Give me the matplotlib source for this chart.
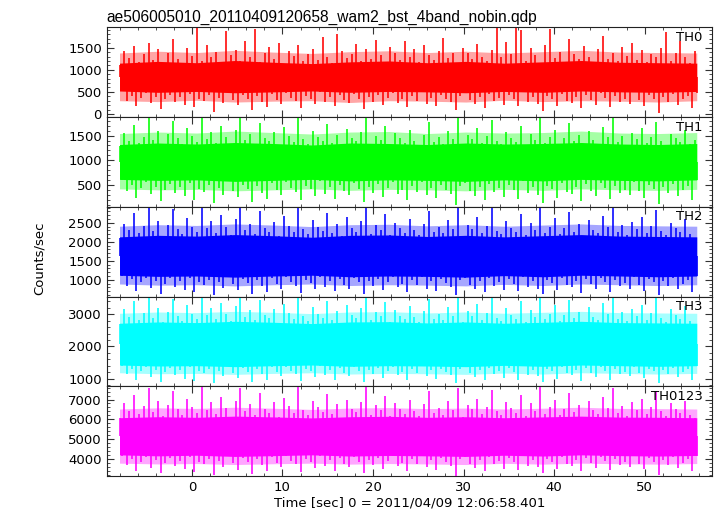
import numpy as np
import matplotlib.pyplot as plt

plt.rcParams['font.family'] = 'DejaVu Sans'
plt.rcParams['font.size'] = 9.5

title = 'ae506005010_20110409120658_wam2_bst_4band_nobin.qdp'
xlabel = 'Time [sec] 0 = 2011/04/09 12:06:58.401'
ylabel = 'Counts/sec'

t_start = -8.0
t_bin = 0.534      # spacing of the peak/trough samples below
band_bin = 4.25    # spacing of the band samples

names = ['TH0', 'TH1', 'TH2', 'TH3', 'TH0123']
levels = [840, 970, 1625, 2070, 5150]

# dense core of each light curve (lower / upper edge, every ~4 s)
th0_core_lo = [520, 490, 510, 480, 500, 520, 490, 510, 500, 480, 510, 490, 520, 500, 490, 510]
th0_core_hi = [1150, 1190, 1160, 1210, 1170, 1140, 1180, 1200, 1160, 1190, 1150, 1180, 1210, 1170, 1160, 1150]
th1_core_lo = [620, 600, 610, 580, 600, 620, 590, 610, 600, 580, 610, 590, 620, 600, 590, 610]
th1_core_hi = [1320, 1350, 1330, 1360, 1340, 1310, 1350, 1340, 1320, 1350, 1330, 1340, 1360, 1330, 1320, 1340]
th2_core_lo = [1120, 1090, 1100, 1070, 1100, 1120, 1080, 1100, 1090, 1070, 1110, 1080, 1120, 1100, 1080, 1100]
th2_core_hi = [2130, 2170, 2150, 2190, 2160, 2120, 2170, 2180, 2140, 2170, 2130, 2160, 2190, 2150, 2140, 2130]
th3_core_lo = [1420, 1390, 1400, 1370, 1400, 1420, 1380, 1400, 1390, 1370, 1410, 1380, 1420, 1400, 1380, 1400]
th3_core_hi = [2720, 2760, 2740, 2780, 2750, 2710, 2760, 2770, 2730, 2760, 2720, 2750, 2780, 2740, 2730, 2720]
th0123_core_lo = [4200, 4150, 4180, 4120, 4160, 4200, 4140, 4170, 4150, 4120, 4180, 4140, 4200, 4160, 4140, 4170]
th0123_core_hi = [6080, 6130, 6100, 6160, 6120, 6070, 6130, 6150, 6100, 6130, 6080, 6120, 6160, 6110, 6100, 6080]

# thinner outer zone where most of the excursions end
th0_outer_lo = [300, 280, 310, 270, 290, 300, 260, 300, 290, 270, 310, 280, 300, 290, 270, 300]
th0_outer_hi = [1380, 1420, 1390, 1440, 1400, 1370, 1410, 1430, 1390, 1420, 1380, 1410, 1440, 1400, 1390, 1380]
th1_outer_lo = [430, 410, 420, 390, 410, 430, 400, 420, 410, 390, 420, 400, 430, 410, 400, 420]
th1_outer_hi = [1540, 1570, 1550, 1590, 1560, 1530, 1570, 1580, 1540, 1570, 1550, 1560, 1590, 1550, 1540, 1560]
th2_outer_lo = [890, 860, 870, 840, 870, 890, 850, 870, 860, 840, 880, 850, 890, 870, 850, 870]
th2_outer_hi = [2410, 2450, 2430, 2470, 2440, 2400, 2450, 2460, 2420, 2450, 2410, 2440, 2470, 2430, 2420, 2410]
th3_outer_lo = [1180, 1150, 1160, 1130, 1160, 1180, 1140, 1160, 1150, 1130, 1170, 1140, 1180, 1160, 1140, 1160]
th3_outer_hi = [3030, 3070, 3050, 3090, 3060, 3020, 3070, 3080, 3040, 3070, 3030, 3060, 3090, 3050, 3040, 3030]
th0123_outer_lo = [3780, 3740, 3760, 3710, 3750, 3780, 3730, 3760, 3740, 3710, 3770, 3730, 3780, 3750, 3730, 3760]
th0123_outer_hi = [6520, 6580, 6550, 6610, 6560, 6500, 6570, 6590, 6540, 6570, 6520, 6560, 6610, 6550, 6540, 6520]

# individual peaks (hi) and troughs (lo)
th0_hi = [1100, 1420, 1260, 1530, 1180, 1350, 1610, 1220, 1470, 1090, 1380, 1700,
          1240, 1150, 1490, 1320, 1950, 1200, 1560, 1280, 1400, 1130, 1880, 1330,
          1450, 1210, 1650, 1290, 1920, 1170, 1380, 1520, 1240, 1600, 1110, 1430,
          1310, 1560, 1190, 1360, 1480, 1230, 1740, 1300, 1160, 1820, 1420, 1270,
          1350, 1590, 1200, 1460, 1250, 1680, 1330, 1140, 1510, 1380, 1220, 1640,
          1290, 1470, 1170, 1550, 1340, 1230, 1420, 1710, 1260, 1390, 1150, 1500,
          1370, 1240, 1580, 1300, 1190, 1450, 1940, 1280, 1620, 1360, 1950, 1900,
          1210, 1490, 1330, 1140, 1560, 1920, 1270, 1410, 1180, 1690, 1350, 1240,
          1530, 1300, 1160, 1460, 1770, 1250, 1380, 1200, 1520, 1320, 1600, 1230,
          1440, 1170, 1360, 1280, 1500, 1860, 1210, 1390, 1650, 1300, 1150, 1420]
th0_lo = [520, 300, 410, 180, 360, 470, 250, 390, 120, 330, 440, 280,
          380, 210, 460, 150, 340, 290, 420, 40, 370, 240, 500, 310,
          200, 430, 350, 90, 400, 270, 160, 450, 320, 230, 480, 370,
          290, 140, 410, 340, 220, 500, 260, 380, 170, 430, 310, 240,
          460, 350, 110, 390, 280, 440, 200, 360, 480, 250, 330, 150,
          410, 300, 490, 230, 370, 180, 420, 340, 260, 100, 400, 470,
          310, 220, 380, 140, 450, 290, 360, 200, 430, 330, 170, 500,
          270, 390, 230, 60, 410, 350, 190, 460, 300, 250, 380, 130,
          440, 320, 210, 470, 360, 160, 400, 280, 340, 230, 490, 310,
          180, 420, 350, 30, 390, 270, 450, 210, 330, 400, 140, 480]

th1_hi = [1280, 1560, 1400, 1720, 1350, 1480, 1870, 1420, 1600, 1300, 1530, 1800,
          1450, 1330, 1650, 1500, 1380, 1870, 1440, 1580, 1360, 1690, 1470, 1310,
          1620, 1870, 1410, 1540, 1340, 1760, 1460, 1390, 1570, 1290, 1680, 1500,
          1370, 1860, 1440, 1320, 1600, 1480, 1400, 1730, 1350, 1520, 1280, 1640,
          1460, 1390, 1580, 1870, 1330, 1500, 1420, 1700, 1310, 1550, 1450, 1360,
          1620, 1400, 1300, 1520, 1780, 1380, 1470, 1340, 1600, 1430, 1870, 1290,
          1510, 1440, 1660, 1350, 1490, 1820, 1400, 1320, 1570, 1460, 1380, 1700,
          1300, 1540, 1420, 1870, 1360, 1480, 1620, 1330, 1450, 1750, 1390, 1520,
          1280, 1600, 1410, 1340, 1680, 1470, 1860, 1370, 1500, 1310, 1560, 1430,
          1650, 1350, 1480, 1780, 1400, 1290, 1540, 1460, 1380, 1620, 1330, 1420]
th1_lo = [600, 380, 500, 250, 450, 560, 320, 470, 180, 410, 530, 350,
          460, 280, 540, 210, 430, 370, 500, 150, 440, 310, 580, 390,
          270, 510, 420, 160, 480, 340, 230, 540, 400, 300, 560, 440,
          360, 200, 490, 420, 290, 580, 330, 460, 220, 510, 380, 300,
          540, 430, 170, 470, 350, 520, 260, 440, 560, 320, 400, 210,
          490, 370, 570, 300, 450, 240, 500, 410, 330, 110, 480, 550,
          380, 290, 460, 200, 530, 360, 440, 260, 510, 400, 230, 580,
          340, 470, 300, 150, 490, 420, 250, 540, 370, 320, 460, 190,
          520, 390, 280, 550, 440, 220, 480, 350, 410, 300, 570, 380,
          240, 500, 420, 130, 470, 340, 530, 280, 400, 480, 200, 600]

th2_hi = [2100, 2480, 2300, 2750, 2220, 2420, 2900, 2280, 2560, 2160, 2450, 2850,
          2330, 2200, 2620, 2400, 2260, 2900, 2350, 2540, 2240, 2700, 2380, 2190,
          2600, 2900, 2300, 2480, 2210, 2800, 2370, 2270, 2530, 2150, 2680, 2420,
          2250, 2900, 2340, 2200, 2580, 2400, 2290, 2760, 2230, 2460, 2140, 2650,
          2360, 2270, 2550, 2900, 2210, 2440, 2320, 2720, 2180, 2500, 2350, 2240,
          2610, 2300, 2170, 2470, 2820, 2260, 2380, 2220, 2570, 2330, 2900, 2160,
          2450, 2340, 2660, 2230, 2410, 2880, 2290, 2200, 2540, 2370, 2250, 2740,
          2180, 2490, 2310, 2900, 2240, 2400, 2630, 2210, 2360, 2790, 2270, 2460,
          2150, 2580, 2300, 2220, 2690, 2380, 2900, 2250, 2440, 2190, 2520, 2330,
          2640, 2230, 2410, 2830, 2290, 2170, 2500, 2360, 2260, 2600, 2210, 2100]
th2_lo = [1100, 850, 1010, 700, 940, 1060, 790, 980, 640, 900, 1040, 820,
          960, 740, 1050, 680, 930, 860, 1000, 610, 950, 780, 1080, 880,
          720, 1020, 910, 620, 990, 830, 690, 1050, 890, 770, 1070, 940,
          850, 660, 1000, 920, 760, 1080, 800, 960, 700, 1030, 870, 770,
          1050, 930, 630, 980, 840, 1030, 730, 950, 1070, 800, 890, 680,
          1000, 860, 1080, 770, 960, 710, 1010, 910, 810, 600, 990, 1060,
          870, 760, 970, 680, 1040, 850, 950, 730, 1020, 900, 700, 1080,
          820, 980, 770, 640, 1000, 920, 720, 1050, 860, 800, 970, 660,
          1030, 880, 750, 1060, 950, 690, 990, 840, 910, 770, 1070, 870,
          710, 1010, 930, 610, 980, 830, 1040, 750, 900, 990, 670, 1100]

th3_hi = [2700, 3150, 2900, 3400, 2820, 3050, 3550, 2880, 3200, 2760, 3080, 3480,
          2950, 2800, 3300, 3020, 2860, 3550, 2970, 3180, 2840, 3350, 3000, 2780,
          3250, 3550, 2900, 3120, 2810, 3450, 2990, 2870, 3160, 2740, 3330, 3050,
          2850, 3550, 2960, 2800, 3220, 3020, 2890, 3420, 2830, 3100, 2730, 3300,
          2980, 2870, 3190, 3550, 2810, 3070, 2930, 3380, 2770, 3140, 2960, 2840,
          3260, 2900, 2760, 3110, 3480, 2860, 3000, 2820, 3210, 2940, 3550, 2750,
          3090, 2950, 3310, 2830, 3040, 3520, 2890, 2790, 3180, 2980, 2850, 3400,
          2770, 3130, 2910, 3550, 2840, 3020, 3280, 2800, 2970, 3450, 2870, 3080,
          2740, 3220, 2920, 2820, 3340, 3000, 3550, 2850, 3060, 2780, 3170, 2940,
          3290, 2830, 3030, 3490, 2890, 2760, 3150, 2970, 2860, 3250, 2800, 2700]
th3_lo = [1400, 1150, 1310, 960, 1240, 1360, 1050, 1280, 900, 1200, 1340, 1100,
          1260, 1000, 1350, 930, 1230, 1160, 1300, 870, 1250, 1080, 1380, 1180,
          1020, 1320, 1210, 880, 1290, 1130, 950, 1350, 1190, 1070, 1370, 1240,
          1150, 920, 1300, 1220, 1060, 1380, 1100, 1260, 960, 1330, 1170, 1070,
          1350, 1230, 890, 1280, 1140, 1330, 1030, 1250, 1370, 1100, 1190, 940,
          1300, 1160, 1380, 1070, 1260, 980, 1310, 1210, 1110, 850, 1290, 1360,
          1170, 1060, 1270, 940, 1340, 1150, 1250, 1030, 1320, 1200, 960, 1380,
          1120, 1280, 1070, 900, 1300, 1220, 1000, 1350, 1160, 1100, 1270, 920,
          1330, 1180, 1050, 1360, 1250, 970, 1290, 1140, 1210, 1070, 1370, 1170,
          1010, 1310, 1230, 860, 1280, 1130, 1340, 1050, 1200, 1290, 950, 1400]

th0123_hi = [6050, 6800, 6400, 7250, 6250, 6650, 7600, 6350, 6900, 6150, 6700, 7450,
             6500, 6200, 7050, 6600, 6300, 7650, 6450, 6850, 6250, 7150, 6550, 6100,
             6950, 7600, 6400, 6750, 6200, 7350, 6500, 6300, 6850, 6100, 7100, 6650,
             6300, 7650, 6450, 6200, 6950, 6600, 6350, 7300, 6250, 6750, 6050, 7000,
             6500, 6350, 6850, 7650, 6200, 6700, 6450, 7200, 6150, 6800, 6500, 6250,
             7000, 6400, 6150, 6750, 7450, 6300, 6550, 6200, 6900, 6450, 7600, 6100,
             6700, 6500, 7050, 6250, 6600, 7500, 6400, 6200, 6850, 6550, 6300, 7250,
             6150, 6800, 6400, 7650, 6250, 6600, 7000, 6200, 6500, 7350, 6350, 6700,
             6100, 6950, 6450, 6250, 7150, 6550, 7600, 6300, 6650, 6150, 6850, 6450,
             7050, 6250, 6600, 7400, 6400, 6150, 6800, 6500, 6300, 6950, 6200, 6050]
th0123_lo = [4150, 3700, 4000, 3400, 3850, 4100, 3550, 3950, 3300, 3800, 4050, 3650,
             3900, 3500, 4100, 3350, 3850, 3750, 4000, 3200, 3880, 3600, 4150, 3780,
             3450, 4050, 3820, 3250, 3980, 3680, 3380, 4100, 3800, 3580, 4120, 3900,
             3720, 3330, 4000, 3840, 3560, 4150, 3650, 3920, 3400, 4060, 3760, 3580,
             4100, 3860, 3280, 3960, 3700, 4060, 3500, 3900, 4120, 3640, 3800, 3380,
             4000, 3740, 4140, 3600, 3920, 3450, 4020, 3820, 3660, 3150, 3980, 4100,
             3760, 3550, 3940, 3400, 4080, 3720, 3900, 3500, 4040, 3820, 3420, 4150,
             3660, 3960, 3580, 3300, 4000, 3840, 3480, 4100, 3750, 3640, 3940, 3360,
             4060, 3780, 3540, 4100, 3900, 3440, 3980, 3700, 3820, 3580, 4140, 3760,
             3460, 4020, 3860, 3200, 3960, 3680, 4080, 3520, 3800, 3980, 3400, 4150]

core_los = [th0_core_lo, th1_core_lo, th2_core_lo, th3_core_lo, th0123_core_lo]
core_his = [th0_core_hi, th1_core_hi, th2_core_hi, th3_core_hi, th0123_core_hi]
outer_los = [th0_outer_lo, th1_outer_lo, th2_outer_lo, th3_outer_lo, th0123_outer_lo]
outer_his = [th0_outer_hi, th1_outer_hi, th2_outer_hi, th3_outer_hi, th0123_outer_hi]
his = [th0_hi, th1_hi, th2_hi, th3_hi, th0123_hi]
los = [th0_lo, th1_lo, th2_lo, th3_lo, th0123_lo]
colors = ['#ff0000', '#00ff00', '#0000ff', '#00ffff', '#ff00ff']
ylims = [(-70, 1960), (70, 1870), (560, 2920), (760, 3550), (3130, 7670)]
majors = [500, 500, 500, 1000, 1000]
minors = [100, 100, 100, 200, 200]

fig, axes = plt.subplots(5, 1, sharex=True, figsize=(7.17, 5.16), dpi=100)
fig.subplots_adjust(left=0.149, right=0.9926, top=0.947, bottom=0.0775, hspace=0)

for i, ax in enumerate(axes):
    c = colors[i]
    tb = t_start + band_bin * np.arange(len(core_los[i]))
    ax.fill_between(tb, outer_los[i], outer_his[i], color=c, alpha=0.35, lw=0)
    ax.fill_between(tb, core_los[i], core_his[i], color=c, lw=0)
    t_up = t_start + t_bin * np.arange(len(his[i]))
    t_dn = t_up + t_bin / 2
    ax.vlines(t_up, levels[i], his[i], color=c, lw=1.15)
    ax.vlines(t_dn, los[i], levels[i], color=c, lw=1.15)
    ax.set_ylim(ylims[i])
    ax.yaxis.set_major_locator(plt.MultipleLocator(majors[i]))
    ax.yaxis.set_minor_locator(plt.MultipleLocator(minors[i]))
    ax.xaxis.set_major_locator(plt.MultipleLocator(10))
    ax.xaxis.set_minor_locator(plt.MultipleLocator(2))
    ax.tick_params(which='both', direction='in', top=True, right=True, colors='#333333', labelcolor='black')
    ax.tick_params(which='major', length=5)
    ax.tick_params(which='minor', length=2.5)
    for s in ax.spines.values():
        s.set_color('#222222')
    ax.text(0.985, 0.96, names[i], transform=ax.transAxes, ha='right', va='top')

axes[-1].set_xlim(-9.4, 57.4)
axes[-1].set_xlabel(xlabel, labelpad=2)
axes[0].set_title(title, loc='left', pad=4, family='Liberation Sans', fontsize=11.2)
fig.text(0.055, 0.5, ylabel, rotation=90, va='center', ha='center')

plt.savefig('out.png')
